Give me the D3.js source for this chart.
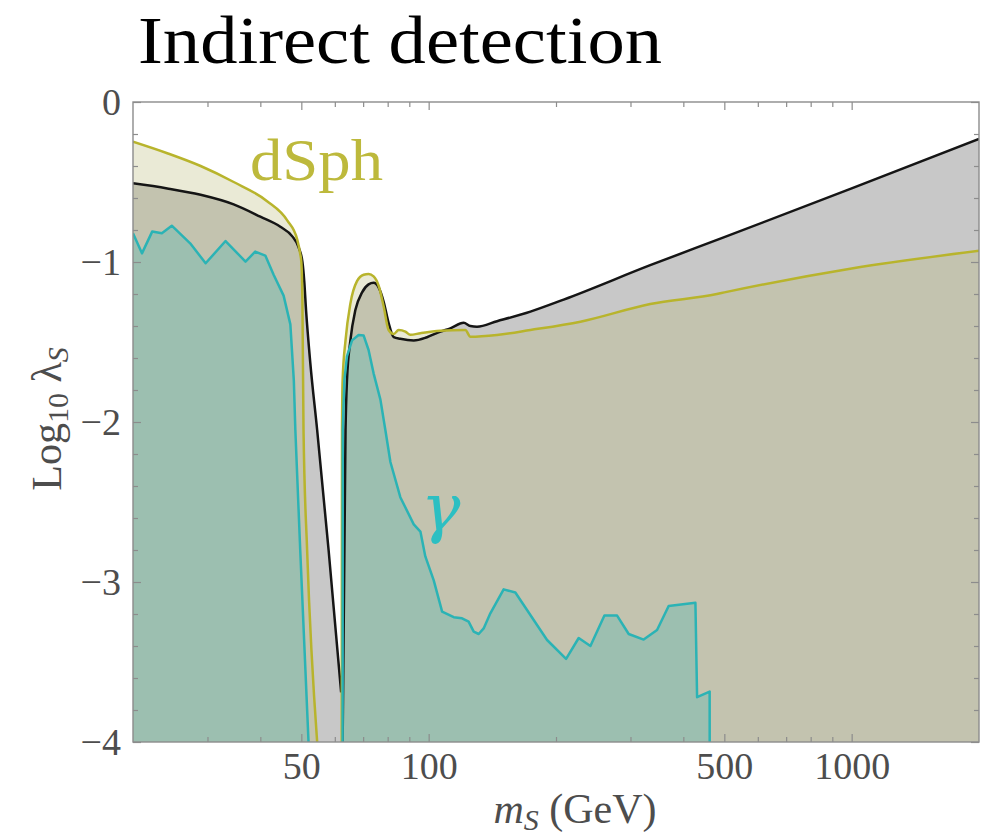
<!DOCTYPE html>
<html>
<head>
<meta charset="utf-8">
<script src="https://cdn.jsdelivr.net/npm/d3@7"></script>
<style>
  body { margin: 0; background: #fff; }
  svg { display: block; }
</style>
</head>
<body>
<svg id="chart" width="985" height="839"></svg>
<script>
// Axis ticks
const massTicks = [50, 100, 500, 1000];
const massMinorTicks = [30, 40, 60, 70, 80, 90, 200, 300, 400, 600, 700, 800, 900];
const lambdaTicks = [0, -1, -2, -3, -4];
const lambdaMinorTicks = [-0.2, -0.4, -0.6, -0.8, -1.2, -1.4, -1.6, -1.8, -2.2, -2.4, -2.6, -2.8,
                          -3.2, -3.4, -3.6, -3.8];

// Combined bound (black), [m_S in GeV, log10 lambda_S]
const combinedLeft = [[20, -0.508], [24.1, -0.54], [28.9, -0.58], [34.6, -0.64], [40.0, -0.717],
  [44.6, -0.78], [47.6, -0.84], [49.3, -0.91], [50.3, -1.0], [50.8, -1.12], [51.3, -1.3],
  [52.5, -1.63], [54.5, -2.05], [58.0, -2.80], [62.1, -3.69]];
const combinedRight = [[62.6, -4.0], [63.6, -2.05], [64.1, -1.74], [65.3, -1.49], [67.1, -1.30],
  [69.6, -1.19], [72.1, -1.14], [74.1, -1.13], [76.2, -1.16], [78.3, -1.25], [80.4, -1.38],
  [82.7, -1.47], [85.7, -1.48], [92.2, -1.49], [99.1, -1.47], [106.6, -1.435], [112.5, -1.415],
  [121, -1.38], [125.5, -1.40], [130.1, -1.404], [145.1, -1.37], [174, -1.31], [208.5, -1.235],
  [334, -1.02], [500, -0.845], [1000, -0.54], [2000, -0.23]];

// Dwarf spheroidal bound (dSph)
const dsphLeft = [[20, -0.248], [24.1, -0.32], [28.9, -0.40], [34.6, -0.50], [41.5, -0.62],
  [46.3, -0.74], [48.9, -0.86], [49.7, -0.95], [50.0, -1.0], [50.3, -1.25], [50.6, -2.05],
  [51.6, -2.80], [54.5, -4.0]];
const dsphRight = [[62.3, -4.0], [62.4, -2.05], [62.6, -1.74], [63.6, -1.49], [65.3, -1.26],
  [67.7, -1.12], [70.2, -1.08], [72.1, -1.075], [74.1, -1.09], [76.2, -1.15], [78.3, -1.28],
  [80.4, -1.425], [82.7, -1.45], [84.9, -1.425], [88.1, -1.435], [90.5, -1.455], [95.6, -1.445],
  [106.6, -1.43], [122.1, -1.425], [125.5, -1.467], [145, -1.456], [174, -1.425], [228.4, -1.373],
  [334, -1.2625], [480, -1.2], [500, -1.19], [1000, -1.04], [2000, -0.93]];

// Gamma-ray line bound
const gammaLeft = [[20, -0.82], [21.0, -0.946], [22.2, -0.81], [23.4, -0.82], [24.7, -0.773],
  [27.3, -0.883], [29.7, -1.008], [33.1, -0.869], [36.9, -0.998], [38.9, -0.935], [41.1, -0.96],
  [43.0, -1.08], [45.4, -1.21], [47.1, -1.39], [48.0, -1.74], [48.4, -2.05], [49.7, -2.8],
  [52.0, -4.0]];
const gammaRight = [[62.6, -4.0], [62.65, -2.05], [63.2, -1.74], [64.1, -1.59], [65.9, -1.49],
  [68.3, -1.456], [70.2, -1.46], [72.1, -1.55], [74.1, -1.696], [76.9, -1.86], [79, -2.05],
  [81.2, -2.25], [85.7, -2.47], [92.2, -2.64], [95.6, -2.685], [98.2, -2.84], [102.8, -2.99],
  [107.6, -3.185], [114.6, -3.22], [119.9, -3.227], [124.3, -3.248], [127.8, -3.31],
  [131.3, -3.325], [134.9, -3.29], [139.9, -3.196], [150.4, -3.046], [160.3, -3.066],
  [190.5, -3.3625], [211.3, -3.48], [226.3, -3.35], [241.2, -3.40], [260.3, -3.21],
  [278.9, -3.21], [297.1, -3.325], [322.3, -3.36], [346.7, -3.30], [369.3, -3.15],
  [427.2, -3.13], [431.1, -3.72], [461.6, -3.685], [461.7, -4.0]];

const plot = { left: 133, right: 979, top: 102, bottom: 742 };
const serif = "'Liberation Serif', 'Times New Roman', serif";
const labelColor = "#4d4d4d";
const frameColor = "#8c8c8c";

const svg = d3.select("#chart");

const x = d3.scaleLog().domain([20, 2000]).range([plot.left, plot.right]);
const y = d3.scaleLinear().domain([-4, 0]).range([plot.bottom, plot.top]);

svg.append("defs").append("clipPath").attr("id", "plotClip")
  .append("rect")
  .attr("x", plot.left).attr("y", plot.top)
  .attr("width", plot.right - plot.left).attr("height", plot.bottom - plot.top);

const data = svg.append("g").attr("clip-path", "url(#plotClip)");

const area = (curve) => d3.area()
  .x(d => x(d[0])).y0(y(-4)).y1(d => y(d[1])).curve(curve);
const line = (curve) => d3.line()
  .x(d => x(d[0])).y(d => y(d[1])).curve(curve);

const smooth = d3.curveMonotoneX;
const jagged = d3.curveLinear;

// Filled regions
[combinedLeft, combinedRight].forEach(s =>
  data.append("path").attr("d", area(smooth)(s)).attr("fill", "#c8c8c8"));
[dsphLeft, dsphRight].forEach(s =>
  data.append("path").attr("d", area(smooth)(s)).attr("fill", "rgba(183,182,115,0.29)"));
[gammaLeft, gammaRight].forEach(s =>
  data.append("path").attr("d", area(jagged)(s)).attr("fill", "rgba(40,180,180,0.25)"));

// Boundary lines
[combinedLeft, combinedRight].forEach(s =>
  data.append("path").attr("d", line(smooth)(s)).attr("fill", "none")
    .attr("stroke", "#151515").attr("stroke-width", 2.5));
[dsphLeft, dsphRight].forEach(s =>
  data.append("path").attr("d", line(smooth)(s)).attr("fill", "none")
    .attr("stroke", "#b8b42c").attr("stroke-width", 2.5));
[gammaLeft, gammaRight].forEach(s =>
  data.append("path").attr("d", line(jagged)(s)).attr("fill", "none")
    .attr("stroke", "#2bb3b5").attr("stroke-width", 2.5)
    .attr("stroke-linejoin", "round"));

// Frame
svg.append("rect")
  .attr("x", plot.left).attr("y", plot.top)
  .attr("width", plot.right - plot.left).attr("height", plot.bottom - plot.top)
  .attr("fill", "none").attr("stroke", frameColor).attr("stroke-width", 1.4);

function styleAxis(g) {
  g.select(".domain").remove();
  g.selectAll(".tick line").attr("stroke", frameColor).attr("stroke-width", 1.2);
  g.selectAll(".tick text")
    .attr("font-family", serif).attr("font-size", 38).attr("fill", labelColor);
}

const fmt = d3.format("d");

// Bottom
svg.append("g").attr("transform", `translate(0,${plot.bottom})`)
  .call(d3.axisBottom(x).tickValues(massTicks).tickFormat(fmt).tickSize(-8).tickPadding(10))
  .call(styleAxis);
svg.append("g").attr("transform", `translate(0,${plot.bottom})`)
  .call(d3.axisBottom(x).tickValues(massMinorTicks).tickFormat("").tickSize(-5))
  .call(styleAxis);
// Top
svg.append("g").attr("transform", `translate(0,${plot.top})`)
  .call(d3.axisTop(x).tickValues(massTicks).tickFormat("").tickSize(-8))
  .call(styleAxis);
svg.append("g").attr("transform", `translate(0,${plot.top})`)
  .call(d3.axisTop(x).tickValues(massMinorTicks).tickFormat("").tickSize(-5))
  .call(styleAxis);
// Left
svg.append("g").attr("transform", `translate(${plot.left},0)`)
  .call(d3.axisLeft(y).tickValues(lambdaTicks).tickFormat(fmt).tickSize(-8).tickPadding(12))
  .call(styleAxis);
svg.append("g").attr("transform", `translate(${plot.left},0)`)
  .call(d3.axisLeft(y).tickValues(lambdaMinorTicks).tickFormat("").tickSize(-5))
  .call(styleAxis);
// Right
svg.append("g").attr("transform", `translate(${plot.right},0)`)
  .call(d3.axisRight(y).tickValues(lambdaTicks).tickFormat("").tickSize(-8))
  .call(styleAxis);
svg.append("g").attr("transform", `translate(${plot.right},0)`)
  .call(d3.axisRight(y).tickValues(lambdaMinorTicks).tickFormat("").tickSize(-5))
  .call(styleAxis);

// Title
svg.append("text")
  .attr("x", 138).attr("y", 63)
  .attr("font-family", serif).attr("font-size", 68).attr("fill", "#000")
  .attr("textLength", 524).attr("lengthAdjust", "spacingAndGlyphs")
  .text("Indirect detection");

// Axis titles
const xt = svg.append("text")
  .attr("x", 575).attr("y", 823).attr("text-anchor", "middle")
  .attr("font-family", serif).attr("font-size", 42).attr("fill", labelColor);
xt.append("tspan").attr("font-style", "italic").text("m");
xt.append("tspan").attr("font-style", "italic").attr("font-size", 30).attr("dy", 7).text("S");
xt.append("tspan").attr("dy", -7).text(" (GeV)");

const yt = svg.append("text")
  .attr("transform", "translate(61,419) rotate(-90)").attr("text-anchor", "middle")
  .attr("font-family", serif).attr("font-size", 42).attr("fill", labelColor);
yt.append("tspan").text("Log");
yt.append("tspan").attr("font-size", 30).attr("dy", 7).text("10");
yt.append("tspan").attr("dy", -7).text(" λ");
yt.append("tspan").attr("font-style", "italic").attr("font-size", 30).attr("dy", 7).text("S");

// Curve labels
svg.append("text")
  .attr("x", 250).attr("y", 180)
  .attr("font-family", serif).attr("font-size", 60).attr("fill", "#bdb93c")
  .attr("textLength", 133).attr("lengthAdjust", "spacingAndGlyphs")
  .text("dSph");
svg.append("text")
  .attr("x", 421).attr("y", 530)
  .attr("font-family", "'DejaVu Serif', serif").attr("font-style", "italic")
  .attr("font-weight", 300).attr("font-size", 66)
  .attr("fill", "#2cbfc2")
  .text("γ");
</script>
</body>
</html>
